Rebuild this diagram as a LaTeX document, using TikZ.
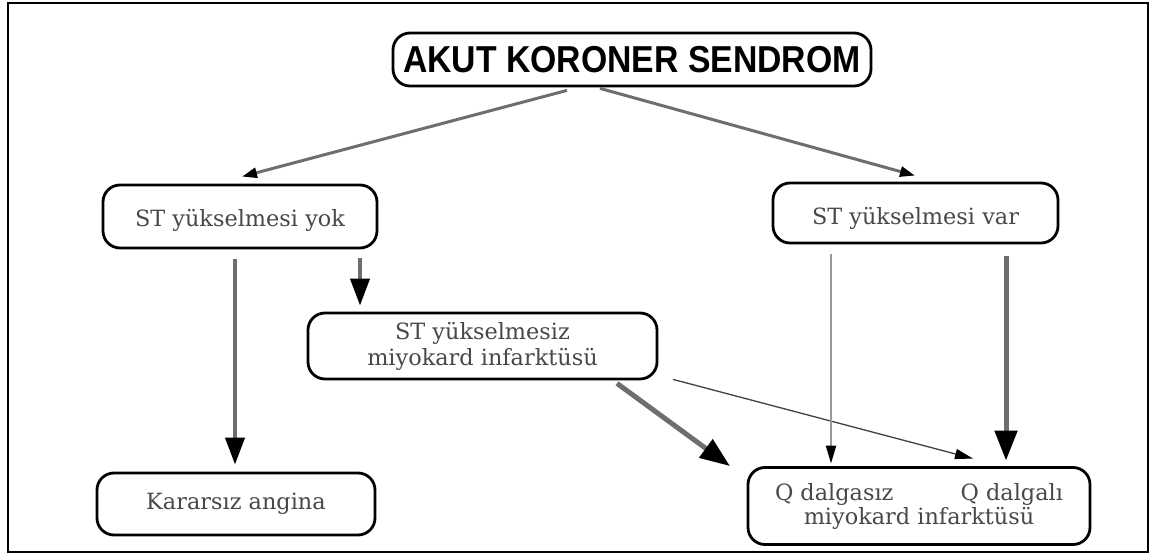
\documentclass[tikz,border=0pt]{standalone}
\usepackage{fontspec}
\usepackage{graphicx}
\usepackage{tikz}
\usetikzlibrary{arrows.meta}
\newfontfamily\headfont{Liberation Sans}
\newfontfamily\boxfont{DejaVu Serif}
\definecolor{txtgray}{HTML}{484848}
\definecolor{shaftgray}{HTML}{6E6E6E}

\begin{document}
\begin{tikzpicture}[x=1pt,y=-1pt,
    box/.style={draw=black,line width=2.8pt,rounded corners=17pt,inner sep=0pt,
        align=center,text=txtgray,font=\boxfont\fontsize{22.4}{26}\selectfont},
    thinarr/.style={draw=shaftgray,line width=3pt,-{Triangle[length=15pt,width=10pt,color=black]}},
    midarr/.style={draw=shaftgray,line width=4pt,-{Triangle[length=27pt,width=19pt,color=black]}},
    bigarr/.style={draw=shaftgray,line width=5pt,-{Triangle[length=30pt,width=22pt,color=black]}},
    hairarr/.style={draw=black!75,line width=1.3pt,-{Triangle[length=18pt,width=10pt,color=black]}},
    greyarr/.style={draw=black!40,line width=2pt,-{Triangle[length=18pt,width=10pt,color=black]}}]
    \useasboundingbox (0,0) rectangle (1156,553);
    \draw[line width=2pt] (8,3) rectangle (1148,551.5);

    \node[box,minimum width=478pt,minimum height=53pt,text=black] (akut) at (632,59.5)
        {\headfont\bfseries\fontsize{37.5}{40}\selectfont\scalebox{0.9}[1]{AKUT KORONER SENDROM}};
    \node[box,minimum width=274pt,minimum height=63pt] (yok) at (240,216.5)
        {\raisebox{-4pt}[\height][\depth]{ST yükselmesi yok}};
    \node[box,minimum width=285pt,minimum height=60pt] (var) at (915.5,213)
        {\raisebox{-5pt}[\height][\depth]{ST yükselmesi var}};
    \node[box,minimum width=349pt,minimum height=66pt] (stsiz) at (482.5,346) {ST yükselmesiz\\miyokard infarktüsü};
    \node[box,minimum width=278pt,minimum height=62pt] (kararsiz) at (236,504) {Kararsız angina};
    \node[box,minimum width=342pt,minimum height=77pt,font=\boxfont\fontsize{22.4}{24}\selectfont] (qmi) at (919,506)
        {\makebox[288pt]{Q dalgasız\hfill Q dalgalı}\\miyokard infarktüsü};

    \draw [thinarr] ([xshift=-65pt,yshift=-3pt]akut.south) -- ([xshift=2pt,yshift=7pt]yok.north);
    \draw [thinarr] ([xshift=-32pt,yshift=-1pt]akut.south) -- ([xshift=-0.5pt,yshift=6pt]var.north);
    \draw [midarr] ([xshift=-5pt,yshift=-10pt]yok.south) -- ([xshift=-1pt,yshift=7pt]kararsiz.north);
    \draw [midarr] ([xshift=120pt,yshift=-9pt]yok.south) -- ([xshift=-122.5pt,yshift=6pt]stsiz.north);
    \draw [bigarr] ([xshift=134.5pt,yshift=-3pt]stsiz.south) -- ([xshift=-189pt,yshift=0pt]qmi.north);
    \draw [hairarr] ([xshift=190.5pt,yshift=1pt]stsiz.south) -- ([xshift=54pt,yshift=7.5pt]qmi.north);
    \draw [greyarr] ([xshift=-84.5pt,yshift=-10pt]var.south) -- ([xshift=-88pt,yshift=2.5pt]qmi.north);
    \draw [bigarr] ([xshift=90.5pt,yshift=-12pt]var.south) -- ([xshift=87pt,yshift=5.5pt]qmi.north);
\end{tikzpicture}
\end{document}
